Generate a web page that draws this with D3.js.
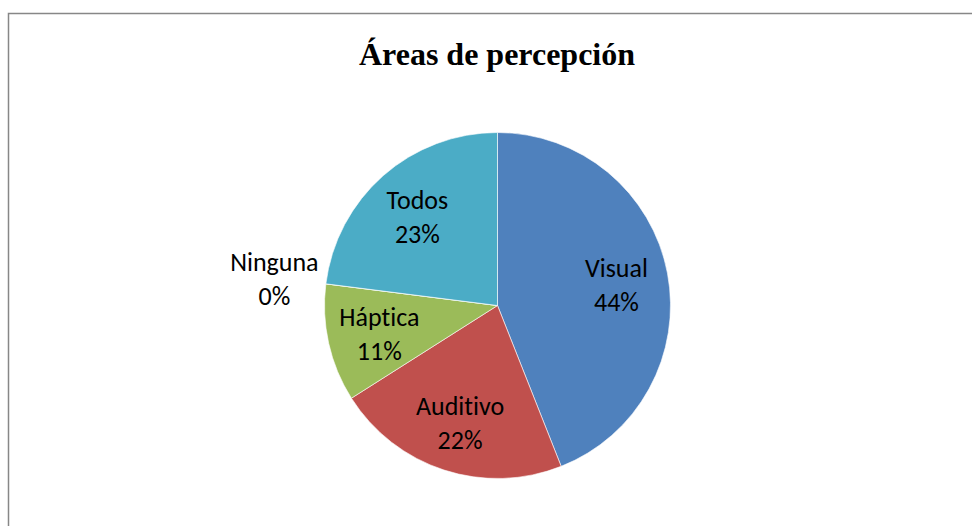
<!DOCTYPE html>
<html>
<head>
<meta charset="utf-8">
<script src="https://cdn.jsdelivr.net/npm/d3@7"></script>
<style>
  html, body { margin: 0; padding: 0; background: #fff; }
  svg { display: block; }
  .lbl text { font-variant-ligatures: none; font-feature-settings: "liga" 0; }
</style>
</head>
<body>
<svg id="chart" width="972" height="526"></svg>
<script>
const categories = ["Visual", "Auditivo", "Háptica", "Ninguna", "Todos"];
const values = [44, 22, 11, 0, 23];
const colors = ["#4F81BD", "#C0504D", "#9BBB59", "#8064A2", "#4BACC6"];
const title = "Áreas de percepción";

const W = 972, H = 526;
const svg = d3.select("#chart");

// chart frame
svg.append("rect")
  .attr("x", 8.5).attr("y", 13.5)
  .attr("width", W + 20).attr("height", H + 20)
  .attr("fill", "#fff")
  .attr("stroke", "#878787").attr("stroke-width", 1.5);

svg.append("text")
  .attr("x", 497).attr("y", 65)
  .attr("text-anchor", "middle")
  .attr("font-family", "'Liberation Serif', 'Times New Roman', serif")
  .attr("font-weight", "bold")
  .attr("font-size", 32)
  .attr("fill", "#000")
  .text(title);

const cx = 497.5, cy = 305.5, R = 173;
const data = categories.map((c, i) => ({ name: c, value: values[i], color: colors[i] }));
const total = d3.sum(values);

const pie = d3.pie().value(d => d.value).sort(null);
const arcs = pie(data);
const arc = d3.arc().innerRadius(0).outerRadius(R);
const labelArc = d3.arc().innerRadius(R * 0.7).outerRadius(R * 0.7);
const outArc = d3.arc().innerRadius(R * 1.3).outerRadius(R * 1.3);

const g = svg.append("g").attr("transform", `translate(${cx},${cy})`);

g.selectAll("path.slice")
  .data(arcs)
  .join("path")
  .attr("class", "slice")
  .attr("d", arc)
  .attr("fill", d => d.data.color)
  .attr("stroke", "#fff")
  .attr("stroke-width", 0.6);

const fmt = d => Math.round(d.data.value / total * 100) + "%";

const labels = g.selectAll("g.lbl")
  .data(arcs)
  .join("g")
  .attr("class", "lbl")
  .attr("transform", d => {
    const p = d.data.value === 0 ? outArc.centroid(d) : labelArc.centroid(d);
    return `translate(${p[0]},${p[1]})`;
  });

labels.each(function(d) {
  const t = d3.select(this).append("text")
    .attr("text-anchor", "middle")
    .attr("font-family", "Carlito, Lato, 'Open Sans', sans-serif")
    .attr("font-size", 26)
    .attr("fill", "#000");
  t.append("tspan").attr("x", 0).attr("y", -6).text(d.data.name);
  t.append("tspan").attr("x", 0).attr("y", 28).text(fmt(d));
});
</script>
</body>
</html>
